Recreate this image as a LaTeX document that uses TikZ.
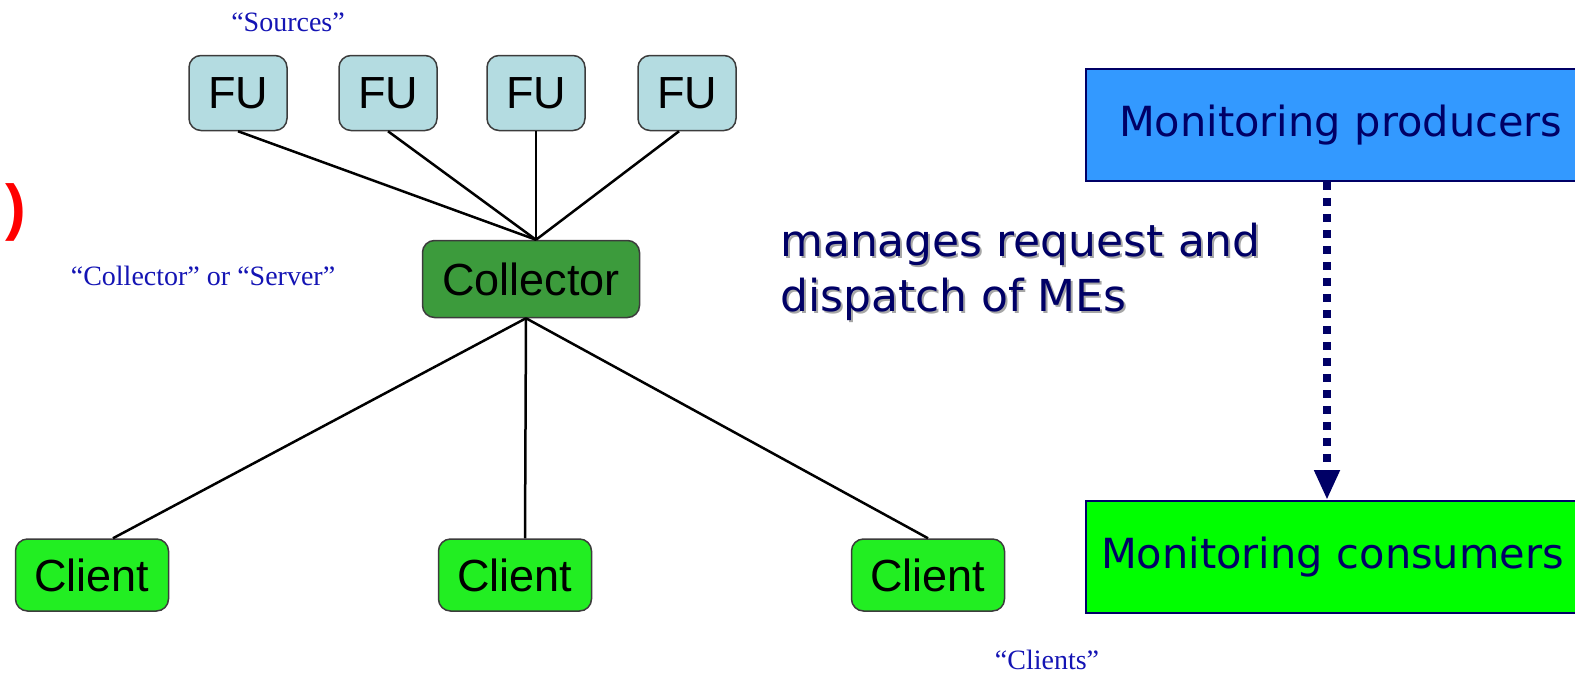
\documentclass[tikz,border=0pt]{standalone}
\usepackage{fontspec}
\setmainfont{Liberation Serif}
\setsansfont{Liberation Sans}
\newfontfamily\tahomalike{DejaVu Sans}
\usepackage{xcolor}
\usetikzlibrary{arrows.meta, positioning}

\definecolor{fublue}{RGB}{180,220,225}
\definecolor{colgreen}{RGB}{60,155,60}
\definecolor{cligreen}{RGB}{34,238,34}
\definecolor{boxgray}{RGB}{60,60,60}
\definecolor{prodblue}{RGB}{51,153,255}
\definecolor{consgreen}{RGB}{0,255,0}
\definecolor{navy}{RGB}{0,0,102}
\definecolor{labelblue}{RGB}{20,20,180}

\tikzset{
  unitbox/.style={draw=boxgray, line width=1.5pt, rounded corners=12pt,
    font=\sffamily\fontsize{45}{48}\selectfont, minimum height=75pt, inner sep=0pt},
  fubox/.style={unitbox, fill=fublue, minimum width=98pt},
  collbox/.style={unitbox, fill=colgreen, minimum width=217pt, minimum height=77pt},
  clibox/.style={unitbox, fill=cligreen, minimum width=153pt, minimum height=72pt},
  link/.style={line width=2.5pt, black},
  quotelabel/.style={text=labelblue, font=\fontsize{28}{32}\selectfont, inner sep=0pt},
  monbox/.style={draw=navy, line width=2pt, anchor=north west, text=navy,
    font=\tahomalike\fontsize{41.5}{48}\selectfont, text width=490pt,
    align=left, inner ysep=0pt},
  flow/.style={navy, line width=8pt, dash pattern=on 8pt off 8pt,
    -{Triangle[width=24pt,length=30pt]}}
}

\begin{document}
\begin{tikzpicture}[x=1pt, y=-1pt]
\useasboundingbox (0,0) rectangle (1575,678);
\clip (0,0) rectangle (1575,678);

% left part: sources, collector, clients
\node[quotelabel] (srclabel) at (288,22) {``Sources''};
\node[fubox] (fu1) at (238,93) {FU};
\node[fubox] (fu2) at (388,93) {FU};
\node[fubox] (fu3) at (536,93) {FU};
\node[fubox] (fu4) at (687,93) {FU};

\node[collbox] (coll) at (531,279) {Collector};
\node[quotelabel] (colllabel) at (203,276) {``Collector'' or ``Server''};

\node[clibox] (cl1) at (92,575) {Client};
\node[clibox] (cl2) at (515,575) {Client};
\node[clibox] (cl3) at (928,575) {Client};
\node[quotelabel] (clilabel) at (1047,660) {``Clients''};

\coordinate (ctop) at ([xshift=5pt]coll.north);
\coordinate (cbot) at ([xshift=-5pt]coll.south);

\draw[link] (fu1.south) -- (ctop);
\draw[link] (fu2.south) -- (ctop);
\draw[link] (fu3.south) -- (ctop);
\draw[link] ([xshift=-8pt]fu4.south) -- (ctop);

\draw[link] (cbot) -- ([xshift=21pt]cl1.north);
\draw[link] (cbot) -- ([xshift=10pt]cl2.north);
\draw[link] (cbot) -- (cl3.north);

% cut-off bracket at the left edge
\node[anchor=east, inner sep=0pt, text=red, font=\sffamily\bfseries\fontsize{62}{62}\selectfont] (paren) at (26,212) {)};

% right part: producers and consumers
\node[monbox, fill=prodblue, minimum height=112pt, inner xsep=33pt] (prod) at (1085,68) {Monitoring producers};
\node[monbox, fill=consgreen, minimum height=112pt, inner xsep=15pt] (cons) at (1085,500) {Monitoring consumers};
\draw[flow] ([xshift=-37pt]prod.south) -- ([xshift=-19pt]cons.north);

\node[anchor=west, align=left, text=gray!70, inner sep=0pt, font=\tahomalike\fontsize{44}{55}\selectfont] (noteshadow) at (782,274) {manages request and\\dispatch of MEs};
\node[anchor=west, align=left, text=navy, inner sep=0pt, font=\tahomalike\fontsize{44}{55}\selectfont] (note) at (780,272) {manages request and\\dispatch of MEs};
\end{tikzpicture}
\end{document}
